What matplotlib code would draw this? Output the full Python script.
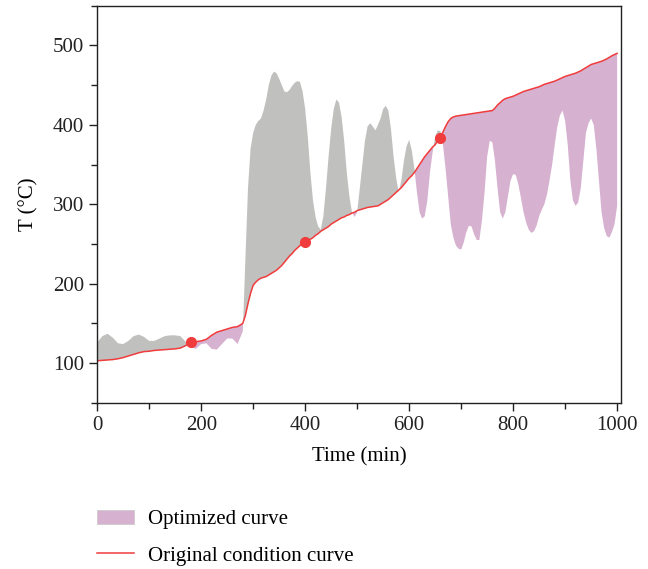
import numpy as np
import matplotlib
matplotlib.use("Agg")
import matplotlib.pyplot as plt
from matplotlib.patches import Patch
from matplotlib.lines import Line2D
from matplotlib.ticker import MultipleLocator

plt.rcParams['font.family'] = ['Liberation Serif', 'DejaVu Serif']

# time (min)
time = [0, 10, 20, 30, 40, 50, 60, 70, 80, 90,
        100, 110, 120, 130, 140, 150, 160, 170, 180, 190,
        200, 210, 220, 230, 240, 250, 260, 270, 280,
        285, 290, 295, 300, 305, 310, 315, 320, 325, 330,
        335, 340, 345, 350, 355, 360, 365, 370, 375, 380,
        385, 390, 395, 400, 405, 410, 415, 420, 425, 430,
        435, 440, 445, 450, 455, 460, 465, 470, 475, 480,
        485, 490, 495, 500, 505, 510, 515, 520, 525, 530,
        535, 540, 545, 550, 555, 560, 565, 570, 575, 580,
        585, 590, 595, 600, 605, 610, 615, 620, 625, 630,
        635, 640, 645, 650, 655, 660, 665, 670, 675, 680,
        685, 690, 695, 700, 705, 710, 715, 720, 725, 730,
        735, 740, 745, 750, 755, 760, 765, 770, 775, 780,
        785, 790, 795, 800, 805, 810, 815, 820, 825, 830,
        835, 840, 845, 850, 855, 860, 865, 870, 875, 880,
        885, 890, 895, 900, 905, 910, 915, 920, 925, 930,
        935, 940, 945, 950, 955, 960, 965, 970, 975, 980,
        985, 990, 995, 1000]

# optimized temperature curve (°C)
optimized = [126, 134, 137, 132, 125, 124, 128, 134, 136, 133,
             128, 128, 131, 134, 135, 135, 134, 127, 120, 118,
             124, 125, 118, 117, 124, 131, 131, 124, 140,
             230, 320, 370, 390, 400, 405, 408, 418, 432, 450,
             462, 467, 465, 458, 450, 442, 441, 444, 449, 453,
             455, 454, 442, 420, 385, 340, 305, 284, 272, 268,
             285, 320, 360, 395, 420, 432, 428, 410, 380, 340,
             310, 290, 284, 290, 320, 350, 380, 398, 402, 398,
             393, 400, 408, 420, 424, 418, 395, 360, 333, 315,
             330, 355, 373, 381, 368, 345, 315, 290, 282, 285,
             305, 340, 365, 385, 393, 392, 375, 345, 310, 275,
             258, 248, 244, 243, 252, 265, 273, 272, 262, 255,
             255, 280, 315, 360, 380, 378, 355, 320, 290, 282,
             290, 310, 330, 338, 337, 325, 308, 290, 277, 268,
             264, 266, 273, 285, 293, 300, 312, 330, 350, 375,
             398, 412, 418, 405, 375, 330, 305, 298, 302, 320,
             355, 390, 402, 408, 400, 370, 330, 290, 270, 260,
             258, 265, 275, 298]

# original condition curve (°C)
original = [103, 103.5, 104, 104.5, 105.5, 107, 109, 111, 113, 114.5,
            115, 116, 116.5, 117, 117.5, 118, 119, 122, 126, 127,
            128, 130, 135, 139, 141, 143, 145, 146, 150,
            160, 175, 188, 198, 202, 205, 207, 208, 209, 211,
            213, 215, 217, 220, 223, 227, 231, 235, 238, 242,
            245, 248, 251, 253, 254, 256, 258, 261, 263, 266,
            268, 270, 272, 275, 277, 279, 281, 283, 284, 286,
            287, 289, 290, 292, 293, 294, 295, 296, 296.5, 297,
            297.5, 298, 300, 302, 304, 306, 309, 312, 315, 318,
            321, 325, 329, 333, 336, 340, 345, 350, 355, 360,
            364, 368, 372, 375, 380, 384, 391, 398, 404, 408,
            410, 411, 411.5, 412, 412.5, 413, 413.5, 414, 414.5, 415,
            415.5, 416, 416.5, 417, 417.5, 418, 421, 425, 428, 431,
            433, 434, 435, 436, 437.5, 439, 440.5, 442, 443, 444,
            445, 446, 447, 448, 449.5, 451, 452, 453, 454, 455,
            456.5, 458, 459.5, 461, 462, 463, 464, 465, 466.5, 468,
            470, 472, 474, 476, 477, 478, 479, 480, 481.5, 483,
            485, 487, 488.5, 490]

marker_time = [180, 400, 660]
marker_temp = [126, 253, 383]

grey = '#c0c0be'
pink = '#d6b1d0'
red = '#f03c3c'

t = np.array(time)
opt = np.array(optimized)
org = np.array(original)

fig = plt.figure(figsize=(6.48, 5.69), dpi=100)
ax = fig.add_axes([0.150, 0.292, 0.808, 0.698])

ax.fill_between(t, opt, org, where=opt >= org, interpolate=True,
                color=grey, lw=0)
ax.fill_between(t, opt, org, where=opt < org, interpolate=True,
                color=pink, lw=0)
ax.plot(t, org, color=red, lw=1.1)
ax.plot(marker_time, marker_temp, 'o', color=red, ms=7, zorder=5)

ax.set_xlim(0, 1007)
ax.set_ylim(50, 550)
ax.xaxis.set_major_locator(MultipleLocator(200))
ax.xaxis.set_minor_locator(MultipleLocator(100))
ax.yaxis.set_major_locator(MultipleLocator(100))
ax.yaxis.set_minor_locator(MultipleLocator(50))
ax.tick_params(which='both', direction='out', labelsize=15, colors='#222222')
ax.tick_params(which='major', length=6, width=1)
ax.tick_params(which='minor', length=4, width=1)
for s in ax.spines.values():
    s.set_linewidth(1)
    s.set_color('#222222')

ax.set_xlabel('Time (min)', fontsize=15, labelpad=9)
ax.set_ylabel('T (°C)', fontsize=15, labelpad=10)

handles = [Patch(facecolor=pink, edgecolor='#c8c8c8', lw=0.5),
           Line2D([0], [0], color=red, lw=1.1)]
fig.legend(handles, ['Optimized curve', 'Original condition curve'],
           loc='upper left', bbox_to_anchor=(0.12, 0.137), frameon=False,
           fontsize=15, handlelength=1.8, handleheight=0.7,
           handletextpad=0.65, labelspacing=0.8)

fig.savefig('out.png', dpi=100)
